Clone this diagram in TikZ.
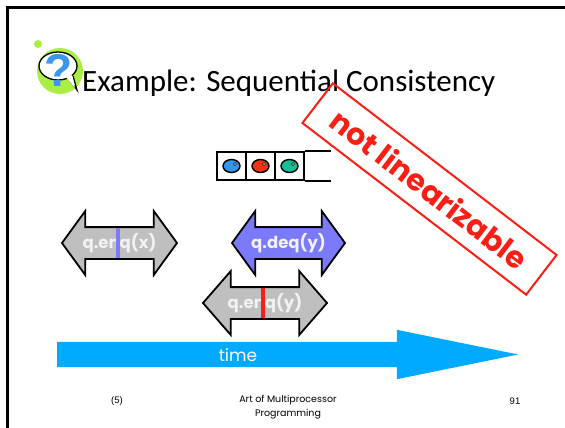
\documentclass[tikz,border=0pt]{standalone}
\usepackage{fontspec}
\setmainfont{Carlito}
\newfontfamily\comicfont{Poppins}
\newfontfamily\arialfont{Liberation Sans}
\usepackage{tikz}
\usetikzlibrary{positioning,shapes.arrows,shapes.geometric,calc}
\definecolor{opgray}{RGB}{191,191,191}
\definecolor{opblue}{RGB}{122,122,250}
\definecolor{timeblue}{RGB}{0,170,255}
\definecolor{stampred}{RGB}{250,30,20}
\definecolor{iconlime}{RGB}{170,238,68}
\definecolor{iconblue}{RGB}{60,150,235}
\definecolor{ballblue}{RGB}{50,150,240}
\definecolor{ballred}{RGB}{240,50,20}
\definecolor{ballteal}{RGB}{20,190,150}
\tikzset{
  slideframe/.style={line width=3pt,line cap=rect},
  slidetitle/.style={font=\fontsize{31}{36}\selectfont,anchor=base west,inner sep=0pt},
  oparrow/.style={shape=double arrow,draw=black,line width=1.8pt,
    double arrow head extend=16pt,double arrow tip angle=108,
    inner xsep=0pt,inner ysep=15pt,text height=0pt,text depth=0pt},
  oplabel/.style={text=white!95!black,inner sep=0pt,
    font=\comicfont\bfseries\fontsize{16.5}{19}\selectfont},
  linpoint/.style={line width=3.5pt},
  qcell/.style={draw,line width=2pt,minimum width=29pt,minimum height=28pt,inner sep=0pt},
  qline/.style={line width=2pt},
  ball/.style={ellipse,draw=black,line width=1.4pt,minimum width=17pt,
    minimum height=13pt,inner sep=0pt},
  timeline/.style={shape=single arrow,fill=timeblue,single arrow head extend=12pt,
    single arrow tip angle=23,inner xsep=0pt,inner ysep=12.5pt,
    text height=0pt,text depth=0pt,minimum height=461pt,anchor=tail},
  timelbl/.style={text=white,inner sep=0pt,font=\comicfont\fontsize{17}{20}\selectfont},
  stamp/.style={draw=stampred,line width=2pt,minimum width=282pt,minimum height=50pt,
    text=stampred,font=\comicfont\bfseries\fontsize{30}{32}\selectfont},
  footer/.style={inner sep=0pt,font=\comicfont\fontsize{9.5}{14}\selectfont,align=center},
  pagenum/.style={inner sep=0pt,font=\arialfont\fontsize{9.5}{12}\selectfont},
}

\begin{document}
\begin{tikzpicture}[x=1pt,y=-1pt]
  \useasboundingbox (0,0) rectangle (565,428);
  \draw[slideframe] (7,428) -- (7,8) -- (565,8);

  % help icon
  \fill[iconlime] (38,44) circle (4pt);
  \fill[iconlime] (60,71) circle (23pt);
  \filldraw[fill=white,line width=1.3pt] (68,78) -- (77,90) -- (73,76);
  \filldraw[fill=white,line width=1.3pt] (58,66) ellipse (19pt and 14pt);
  \fill[white] (66,77) -- (75,88) -- (72,75) -- cycle;
  \node[text=iconblue,font=\arialfont\bfseries\fontsize{46}{46}\selectfont,inner sep=0pt]
    (qmark) at (59,70) {?};

  \node[slidetitle] (title) at (82,92) {Example: Sequential Consistency};

  % queue
  \foreach \i/\c in {1/ballblue,2/ballred,3/ballteal} {
    \node[qcell] (cell\i) at ({202.5+29*\i},166) {};
    \node[ball,fill=\c] (ball\i) at (cell\i) {};
    \filldraw[fill=white,line width=0.4pt] ([xshift=3.5pt,yshift=2pt]ball\i.center) circle (1.5pt);
  }
  \draw[qline] (cell3.north east) -- ++(26,0);
  \draw[qline] (cell3.south east) -- ++(26,0);

  % method calls
  \node[oparrow,fill=opgray,minimum height=115pt] (enqx) at (119.5,243) {};
  \node[oparrow,fill=opblue,minimum height=113pt] (deqy) at (288.5,243) {};
  \node[oparrow,fill=opgray,minimum height=124pt,double arrow tip angle=98] (enqy) at (265,303) {};
  \node[oplabel] (enqxlbl) at (enqx) {q.enq(x)};
  \node[oplabel] (deqylbl) at (deqy) {q.deq(y)};
  \node[oplabel] (enqylbl) at (enqy) {q.enq(y)};
  \draw[linpoint,opblue] ([xshift=-1.5pt,yshift=15pt]enqx.center) -- ([xshift=-1.5pt,yshift=-15pt]enqx.center);
  \draw[linpoint,stampred] ([xshift=-2pt,yshift=15pt]enqy.center) -- ([xshift=-2pt,yshift=-15pt]enqy.center);

  % time axis
  \node[timeline] (axis) at (57,354.5) {};
  \node[timelbl] (timetxt) at (238,355) {time};

  \node[stamp,rotate=-37.5] (notlin) at (429.5,189) {not linearizable};

  \node[pagenum] (chap) at (117,401) {(5)};
  \node[footer,anchor=north] (book) at (288,395) {Art of Multiprocessor\\Programming};
  \node[pagenum] (page) at (515,401) {91};
\end{tikzpicture}
\end{document}
